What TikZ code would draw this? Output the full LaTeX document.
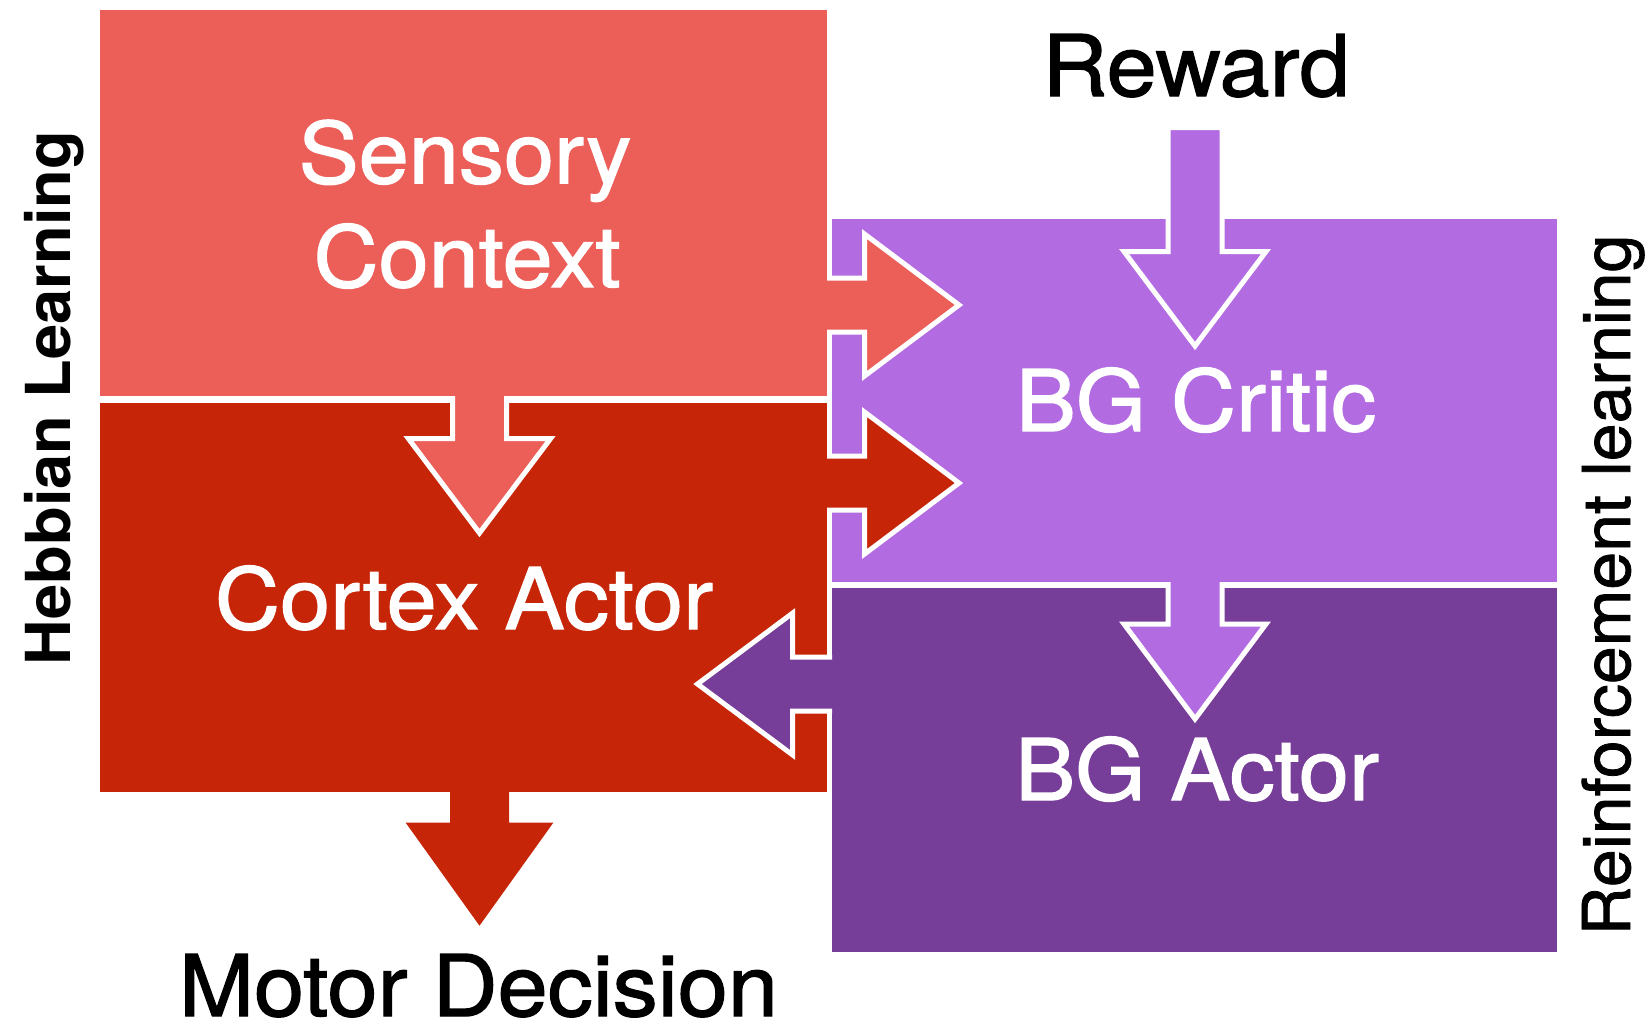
\documentclass[tikz,border=0pt]{standalone}
\usepackage{fontspec}
\setmainfont{TeX Gyre Heros}
\newfontfamily\medfont{TeX Gyre Heros}[FakeStretch=1.06,FakeBold=1.5]
\newfontfamily\sidefont{TeX Gyre Heros}[FakeStretch=1.03,FakeBold=1.2]
\newfontfamily\hebbfont{TeX Gyre Heros Bold}[FakeStretch=1.02]
\definecolor{sens}{RGB}{236,95,89}
\definecolor{cort}{RGB}{198,37,8}
\definecolor{crit}{RGB}{179,107,226}
\definecolor{bgact}{RGB}{119,62,153}
\begin{document}
\begin{tikzpicture}[x=0.5pt,y=-0.5pt,
  block/.style={draw=none,inner sep=0pt,outer sep=0pt,anchor=north west},
  outline/.style={draw=white,line width=2.5pt,miter limit=10},
  lab/.style={text=white,font=\medfont\fontsize{42.5}{50}\selectfont,inner sep=0pt,anchor=base},
  title/.style={text=black,font=\medfont\fontsize{42.5}{50}\selectfont,inner sep=0pt,anchor=base},
  side/.style={text=black,inner sep=0pt,anchor=base,rotate=90}]
\useasboundingbox (0,0) rectangle (1649,1025);
% boxes
\node[block,fill=crit,minimum width=362.5pt,minimum height=181.5pt] (critic) at (832,219) {};
\node[block,fill=bgact,minimum width=362.5pt,minimum height=182pt] (bgactor) at (832,588) {};
\node[block,fill=sens,minimum width=363.5pt,minimum height=193pt] (sensory) at (100,10) {};
\node[block,fill=cort,minimum width=363.5pt,minimum height=194.35pt] (cortex) at (100,403) {};
% arrow sensory -> critic
\fill[sens] (827,278) -- (864.5,278) -- (864.5,234) -- (959,305) -- (864.5,376) -- (864.5,332) -- (827,332) -- cycle;
\draw[outline] (827,278) -- (864.5,278) -- (864.5,234) -- (959,305) -- (864.5,376) -- (864.5,332) -- (827,332);
% arrow cortex -> critic
\fill[cort] (827,456) -- (864.5,456) -- (864.5,412) -- (959,483) -- (864.5,554) -- (864.5,510) -- (827,510) -- cycle;
\draw[outline] (827,456) -- (864.5,456) -- (864.5,412) -- (959,483) -- (864.5,554) -- (864.5,510) -- (827,510);
% arrow bg actor -> cortex
\fill[bgact] (832,657) -- (792.7,657) -- (792.7,613) -- (697.5,684) -- (792.7,755) -- (792.7,711) -- (832,711) -- cycle;
\draw[outline] (832,657) -- (792.7,657) -- (792.7,613) -- (697.5,684) -- (792.7,755) -- (792.7,711) -- (832,711);
% arrow sensory -> cortex
\fill[sens] (452.5,396) -- (452.5,438.7) -- (408.5,438.7) -- (479.5,533) -- (550.5,438.7) -- (506.5,438.7) -- (506.5,396) -- cycle;
\draw[outline] (452.5,396) -- (452.5,438.7) -- (408.5,438.7) -- (479.5,533) -- (550.5,438.7) -- (506.5,438.7) -- (506.5,396);
% reward arrow
\filldraw[fill=crit,outline] (1168,127.5) -- (1168,251.5) -- (1124,251.5) -- (1195,346) -- (1266,251.5) -- (1222,251.5) -- (1222,127.5) -- cycle;
% arrow critic -> bg actor
\fill[crit] (1168,582) -- (1168,624) -- (1124,624) -- (1195,719) -- (1266,624) -- (1222,624) -- (1222,582) -- cycle;
\draw[outline] (1168,582) -- (1168,624) -- (1124,624) -- (1195,719) -- (1266,624) -- (1222,624) -- (1222,582);
% motor arrow
\fill[cort] (450,791) -- (450,822.7) -- (405.7,822.7) -- (479.5,925.7) -- (553.3,822.7) -- (509,822.7) -- (509,791) -- cycle;
% labels
\node[lab] (senstxt) at (465,183.3) {Sensory};
\node[lab] (conttxt) at (467,287) {Context};
\node[lab] (cortxt) at (464,629) {Cortex Actor};
\node[lab] (crittxt) at (1196,431) {BG Critic};
\node[lab] (acttxt) at (1197,800) {BG Actor};
\node[title] (reward) at (1196,96) {Reward};
\node[title] (motor) at (478.5,1016) {Motor Decision};
\node[side,font=\hebbfont\fontsize{31}{37}\selectfont] (hebb) at (70.5,398) {Hebbian Learning};
\node[side,font=\sidefont\fontsize{33}{39}\selectfont] (rl) at (1630,585) {Reinforcement learning};
\end{tikzpicture}
\end{document}
